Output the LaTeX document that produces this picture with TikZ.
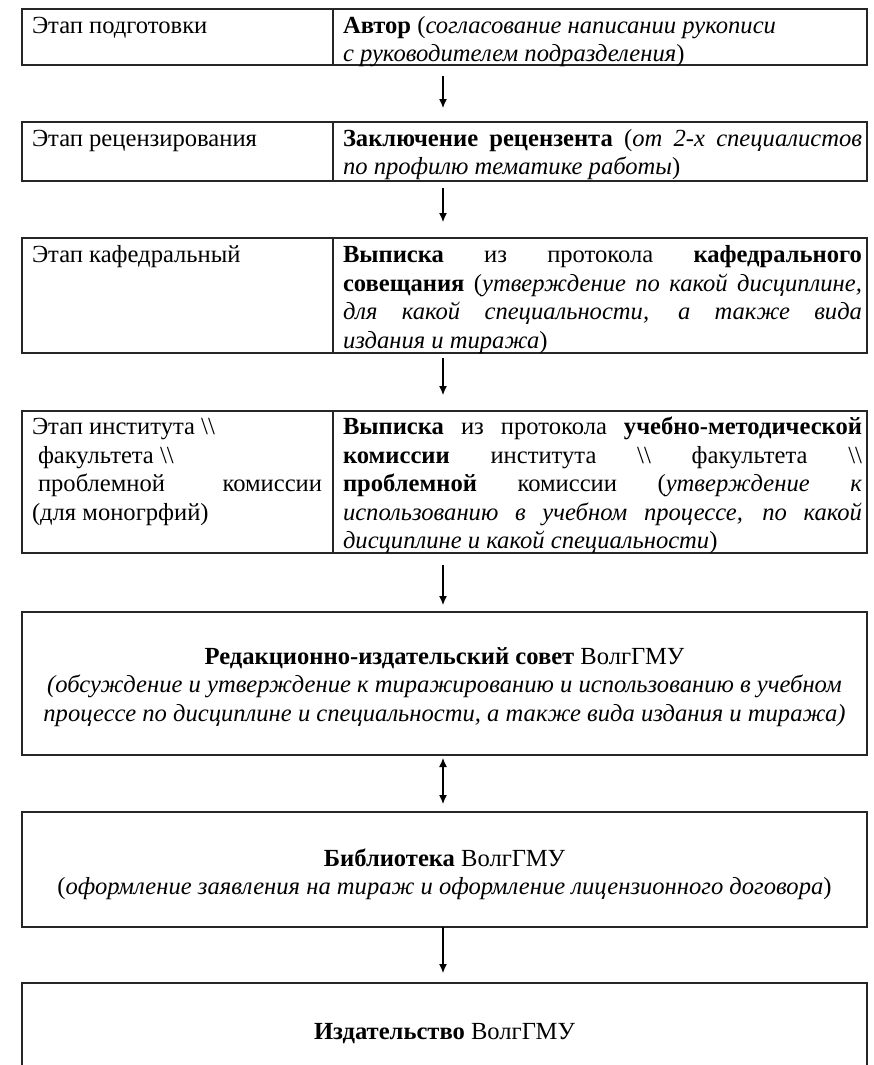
\documentclass[tikz,border=0pt]{standalone}
\usepackage{fontspec}
\setmainfont{Liberation Serif}
\usetikzlibrary{arrows.meta}
\newcommand\jl[2]{\makebox[#1][s]{#2}}
\newcommand\bsl{\textbackslash\textbackslash}
\begin{document}
\begin{tikzpicture}[x=1pt,y=-1pt,
  box/.style={draw=black!85, line width=1.3pt, outer sep=0pt, inner sep=0pt, minimum width=845pt, anchor=north west},
  openbox/.style={outer sep=0pt, inner sep=0pt, minimum width=845pt, anchor=north west},
  divider/.style={draw=black!85, line width=1.3pt},
  txt/.style={inner sep=0pt, outer sep=0pt, align=left, anchor=north west, font=\fontsize{24.6}{28.4}\selectfont},
  ctxt/.style={inner sep=0pt, outer sep=0pt, align=center, anchor=north, font=\fontsize{24.6}{28.4}\selectfont},
  arr/.style={line width=1.2pt, -{Latex[length=9pt,width=8pt]}},
  darr/.style={line width=1.2pt, {Latex[length=9pt,width=8pt]}-{Latex[length=9pt,width=8pt]}}]
\useasboundingbox (0,0) rectangle (874,1065);
\fill[white] (0,0) rectangle (874,1065);

% rows
\node[box, minimum height=56pt] (r1) at (22,9) {};
\node[box, minimum height=59pt] (r2) at (22,122) {};
\node[box, minimum height=115pt] (r3) at (22,238) {};
\node[box, minimum height=142pt] (r4) at (22,411) {};
\node[box, minimum height=143pt] (r5) at (22,612) {};
\node[box, minimum height=115pt] (r6) at (22,812) {};
\node[openbox, minimum height=90pt] (r7) at (22,983) {};
\draw[divider] (r7.south west) -- (r7.north west) -- (r7.north east) -- (r7.south east);

% dividers
\foreach \r in {r1,r2,r3,r4}{
  \draw[divider] ([xshift=311pt]\r.north west) -- ([xshift=311pt]\r.south west);
}

% row 1
\node[txt] (t1l) at (32,13.5) {\strut Этап подготовки};
\node[txt] (t1r) at (343,13.5) {\strut\textbf{Автор} (\textit{согласование написании рукописи}\\
\textit{с руководителем подразделения})};

% row 2
\node[txt] (t2l) at (32,126.5) {\strut Этап рецензирования};
\node[txt] (t2r) at (343,126.5) {\strut\jl{519pt}{\textbf{Заключение рецензента} (\textit{от 2-х специалистов}}\\
\textit{по профилю тематике работы})};

% row 3
\node[txt] (t3l) at (32,243) {\strut Этап кафедральный};
\node[txt] (t3r) at (343,243) {\strut\jl{519pt}{\textbf{Выписка} из протокола \textbf{кафедрального}}\\
\jl{519pt}{\textbf{совещания} (\textit{утверждение по какой дисциплине,}}\\
\jl{519pt}{\textit{для какой специальности, а также вида}}\\
\textit{издания и тиража})};

% row 4
\node[txt] (t4l) at (32,415) {\strut Этап института \bsl\\
\hspace*{6pt}факультета \bsl\\
\hspace*{6pt}\jl{284pt}{проблемной комиссии}\\
(для моногрфий)};
\node[txt] (t4r) at (343,415) {\strut\jl{519pt}{\textbf{Выписка} из протокола \textbf{учебно-методической}}\\
\jl{519pt}{\textbf{комиссии} института \bsl{} факультета \bsl}\\
\jl{519pt}{\textbf{проблемной} комиссии (\textit{утверждение к}}\\
\jl{519pt}{\textit{использованию в учебном процессе, по какой}}\\
\textit{дисциплине и какой специальности})};

% row 5
\node[ctxt] (t5) at (444.5,644.5) {\strut\textbf{Редакционно-издательский совет} ВолгГМУ\\
\textit{(обсуждение и утверждение к тиражированию и использованию в учебном}\\
\textit{процессе по дисциплине и специальности, а также вида издания и тиража)}};

% row 6
\node[ctxt] (t6) at (444.5,846.5) {\strut\textbf{Библиотека} ВолгГМУ\\
(\textit{оформление заявления на тираж и оформление лицензионного договора})};

% row 7
\node[ctxt] (t7) at (444.5,1019.5) {\strut\textbf{Издательство} ВолгГМУ};

% arrows
\draw[arr, shorten <=11pt, shorten >=14pt] ([xshift=-1.5pt]r1.south) -- ([xshift=-1.5pt]r2.north);
\draw[arr, shorten <=7pt, shorten >=16pt] ([xshift=-1.5pt]r2.south) -- ([xshift=-1.5pt]r3.north);
\draw[arr, shorten <=5pt, shorten >=16pt] ([xshift=-1.5pt]r3.south) -- ([xshift=-1.5pt]r4.north);
\draw[arr, shorten <=12pt, shorten >=7pt] ([xshift=-1.5pt]r4.south) -- ([xshift=-1.5pt]r5.north);
\draw[darr, shorten <=3pt, shorten >=8pt] ([xshift=-1.5pt]r5.south) -- ([xshift=-1.5pt]r6.north);
\draw[arr, shorten <=0pt, shorten >=10pt] ([xshift=-1.5pt]r6.south) -- ([xshift=-1.5pt]r7.north);
\end{tikzpicture}
\end{document}
